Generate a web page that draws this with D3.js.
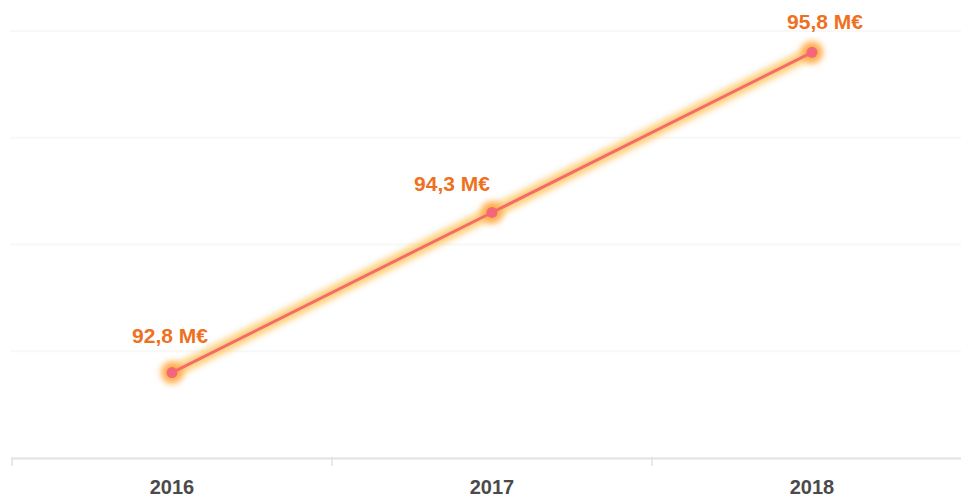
<!DOCTYPE html>
<html>
<head>
<meta charset="utf-8">
<script src="https://cdn.jsdelivr.net/npm/d3@7"></script>
<style>
	body { margin: 0; background: #fff; }
	svg { display: block; font-family: "Liberation Sans", Arial, sans-serif; }
</style>
</head>
<body>
<svg id="chart"></svg>
<script>
var years = ['2016', '2017', '2018'];
var values = [92.8, 94.3, 95.8];
var valueLabels = ['92,8 M€', '94,3 M€', '95,8 M€'];
var gridValues = [92, 93, 94, 95, 96];

var w = 961,
	h = 497;

var svg = d3.select('#chart')
			.attr('width', w)
			.attr('height', h);

// glow filter
var defs = svg.append('defs');
var glow = defs.append('filter')
	.attr('id', 'glow')
	.attr('x', '-50%').attr('y', '-50%')
	.attr('width', '200%').attr('height', '200%');
glow.append('feGaussianBlur').attr('stdDeviation', 3);

var x = d3.scaleBand()
	.domain(years)
	.range([12, 972]);

var y = d3.scaleLinear()
	.domain([92, 96])
	.range([458, 31]);

// faint gridlines
svg.selectAll('line.grid')
   .data(gridValues.slice(1))
   .enter()
   .append('line')
   .attr('class', 'grid')
   .attr('x1', 10)
   .attr('x2', w)
   .attr('y1', function(d) { return y(d); })
   .attr('y2', function(d) { return y(d); })
   .attr('stroke', '#f8f8f8')
   .attr('stroke-width', 2);

// x axis
var xAxis = svg.append('g')
	.attr('transform', 'translate(0,' + y(92) + ')')
	.call(d3.axisBottom(x).tickSize(0).tickPadding(22));

xAxis.select('.domain')
	.attr('stroke', '#e2e2e2')
	.attr('stroke-width', 2);

xAxis.selectAll('text')
	.attr('font-size', '20px')
	.attr('font-weight', 'bold')
	.attr('fill', '#4a4a4a')
	.attr('font-family', '"Liberation Sans", Arial, sans-serif');

// band separators
svg.selectAll('line.sep')
   .data(years)
   .enter()
   .append('line')
   .attr('class', 'sep')
   .attr('x1', function(d) { return x(d); })
   .attr('x2', function(d) { return x(d); })
   .attr('y1', y(92) - 1)
   .attr('y2', y(92) + 8)
   .attr('stroke', '#e2e2e2')
   .attr('stroke-width', 1.5);

var line = d3.line()
	.x(function(d, i) { return x(years[i]) + x.bandwidth() / 2; })
	.y(function(d) { return y(d); });

// glow under the line
svg.append('path')
   .datum(values)
   .attr('d', line)
   .attr('fill', 'none')
   .attr('stroke', '#ffc868')
   .attr('stroke-width', 12)
   .attr('opacity', 0.9)
   .attr('filter', 'url(#glow)');

svg.selectAll('circle.halo')
   .data(values)
   .enter()
   .append('circle')
   .attr('class', 'halo')
   .attr('cx', function(d, i) { return x(years[i]) + x.bandwidth() / 2; })
   .attr('cy', function(d) { return y(d); })
   .attr('r', 11)
   .attr('fill', '#ffae50')
   .attr('filter', 'url(#glow)');

svg.append('path')
   .datum(values)
   .attr('d', line)
   .attr('fill', 'none')
   .attr('stroke', '#f36c6c')
   .attr('stroke-width', 3);

svg.selectAll('circle.dot')
   .data(values)
   .enter()
   .append('circle')
   .attr('class', 'dot')
   .attr('cx', function(d, i) { return x(years[i]) + x.bandwidth() / 2; })
   .attr('cy', function(d) { return y(d); })
   .attr('r', 5.5)
   .attr('fill', '#f4667a');

// value labels, nudged like the original
var nudge = [[-2, -30], [-40, -21], [13, -23]];

svg.selectAll('text.val')
   .data(values)
   .enter()
   .append('text')
   .attr('class', 'val')
   .text(function(d, i) { return valueLabels[i]; })
   .attr('text-anchor', 'middle')
   .attr('x', function(d, i) { return x(years[i]) + x.bandwidth() / 2 + nudge[i][0]; })
   .attr('y', function(d, i) { return y(d) + nudge[i][1]; })
   .attr('font-size', '21px')
   .attr('font-weight', 'bold')
   .attr('fill', '#ee7020');
</script>
</body>
</html>
